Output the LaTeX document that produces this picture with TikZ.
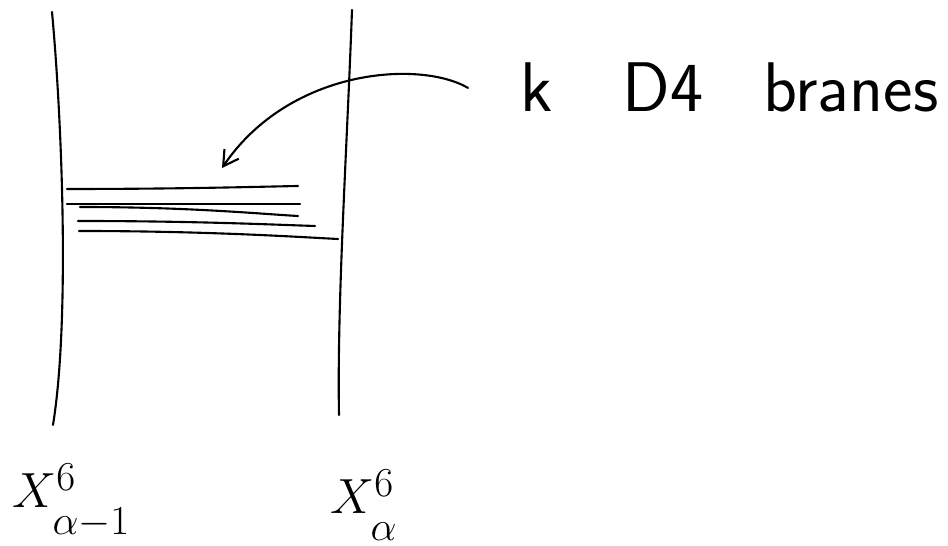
\documentclass[tikz,border=0pt]{standalone}
\usepackage{tikz}
\usetikzlibrary{arrows.meta,positioning}
\tikzset{
  pen/.style={line width=1.2pt,line cap=round,line join=round},
  ns5/.style={pen},
  arr/.style={pen,-{Straight Barb[angle'=60,length=3mm]}},
  bigtext/.style={font=\fontsize{40}{42}\selectfont\sffamily,anchor=base west,inner sep=0pt},
  xlabel/.style={font=\Huge,scale=1.13,anchor=base west,inner sep=0pt},
}
\newcommand{\lowsub}[1]{\raisebox{-7pt}{$\scriptstyle #1$}}

\begin{document}
\begin{tikzpicture}[x=0.02cm,y=-0.02cm]
  \useasboundingbox (0,0) rectangle (948,546);
  % the two NS5 branes
  \draw[ns5] (52,12) .. controls (62,120) and (70,320) .. (53,425);
  \draw[ns5] (352,10) .. controls (347,150) and (337,300) .. (339,415);
  % stack of D4 branes
  \foreach \a/\b/\c/\d in {67/189/298/186,67/204/300/204,80/207/298/216,78/221/315/226,79/231/338/239}{
    \draw[pen] (\a,\b) .. controls ({(\a+\c)/2},\b) and ({\c-40},{\d+(\b-\d)/4}) .. (\c,\d);
  }
  % label and arrow
  \node[bigtext,inner xsep=1.04cm] (dlabel) at (468,112) {k\hspace{1.0em}D4\hspace{0.85em}branes};
  \coordinate (dstack) at (222,168);
  \draw[arr] (dlabel.west) .. controls (420,60) and (290,68) .. (dstack);
  % positions of the NS5 branes
  \node[xlabel] (xleft) at (12,508) {$X^{6}_{\lowsub{\alpha-1}}$};
  \node[xlabel] (xright) at (330,514) {$X^{6}_{\lowsub{\alpha}}$};
\end{tikzpicture}
\end{document}
